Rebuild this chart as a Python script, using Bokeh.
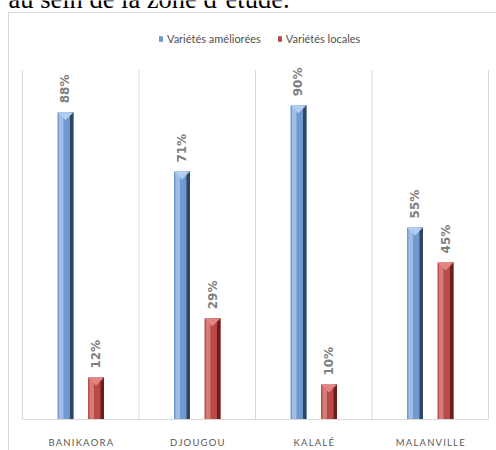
import numpy as np
from bokeh.plotting import figure
from bokeh.models import (Range1d, FixedTicker, Legend, LegendItem, Label,
                          ColumnDataSource)
from bokeh.embed import file_html
from bokeh.resources import INLINE
from bokeh.core.properties import value

# Share of improved vs local varieties per commune (%)
communes = ["BANIKAORA", "DJOUGOU", "KALALÉ", "MALANVILLE"]
ameliorees = [88, 71, 90, 55]
locales = [12, 29, 10, 45]
series_names = ["Variétés améliorées", "Variétés locales"]
caption = "au sein de la zone d’étude."

BLUE = dict(main="#7199d0", light="#9fbde6", dark="#2e4665", cap="#b3cdf0")
RED = dict(main="#b94a47", light="#d57b78", dark="#6a1f1d", cap="#e28583")

W = 0.137      # bar width in category units
OFF = 0.131    # distance of each bar from the category centre
CAP = 2.3      # depth of the bevelled top, in percent units

# the frame fills the canvas above the axis; ranges padded so that the
# category slots sit 22 px from the left and 8 px from the right edge
WIDTH, HEIGHT, AXIS_H = 496, 450, 30
slot_px = (WIDTH - 22 - 8) / len(communes)
x_range = Range1d(-22 / slot_px, len(communes) + 8 / slot_px)
y_range = Range1d(0, (HEIGHT - AXIS_H) / 3.5)

p = figure(width=WIDTH, height=HEIGHT, x_range=x_range, y_range=y_range,
           output_backend="svg", toolbar_location=None, y_axis_location=None,
           min_border_left=0, min_border_right=0, min_border_top=0,
           min_border_bottom=AXIS_H)
p.outline_line_color = None
p.background_fill_color = None
p.border_fill_color = None
p.styles = {
    "background": "linear-gradient(#d9d9d9,#d9d9d9) 8px 12px / 1px 100% no-repeat, "
                  "linear-gradient(#d9d9d9,#d9d9d9) 8px 12px / 100% 1px no-repeat, #ffffff",
}

centres = np.arange(len(communes)) + 0.5
bounds = np.arange(len(communes) + 1)


def spaced(word):
    return "\u2009".join(word)


# slot separators, running up to the 100 % level
p.segment(x0=bounds, y0=0, x1=bounds, y1=100, line_color="#d9d9d9", line_width=1)


def draw_series(xs, vals, col):
    src = ColumnDataSource(dict(x=xs, top=vals))
    base = p.vbar(x="x", top="top", width=W, bottom=0, source=src,
                  fill_color=col["main"], line_color=None)
    p.vbar(x=xs - W * 0.27, top=vals, width=W * 0.28, bottom=0,
           fill_color=col["light"], line_color=None)
    p.vbar(x=xs + W * 0.39, top=vals, width=W * 0.22, bottom=0,
           fill_color=col["dark"], line_color=None)
    cap_x = [[x - W / 2, x + W / 2, x] for x in xs]
    cap_y = [[v, v, v - CAP] for v in vals]
    p.patches(cap_x, cap_y, fill_color=col["cap"], line_color=None)
    p.text(x=xs, y=vals, text=[f"{v}%" for v in vals], angle=np.pi / 2,
           text_align="left", text_baseline="middle", y_offset=-9,
           text_font=value("DejaVu Sans"), text_font_style="bold",
           text_font_size="12px", text_color="#7f7f7f")
    return base


r1 = draw_series(centres - OFF, np.array(ameliorees), BLUE)
r2 = draw_series(centres + OFF, np.array(locales), RED)

# category axis
p.xgrid.visible = False
p.ygrid.visible = False
p.xaxis.bounds = (0, len(communes))
p.xaxis.ticker = FixedTicker(ticks=list(centres))
p.xaxis.major_label_overrides = {float(c): spaced(n) for c, n in zip(centres, communes)}
p.xaxis.axis_line_color = "#d9d9d9"
p.xaxis.major_tick_line_color = None
p.xaxis.minor_tick_line_color = None
p.xaxis.major_label_standoff = 11
p.xaxis.major_label_text_font = "Lato"
p.xaxis.major_label_text_font_size = "9.5px"
p.xaxis.major_label_text_color = "#595959"

legend = Legend(items=[LegendItem(label=series_names[0], renderers=[r1]),
                       LegendItem(label=series_names[1], renderers=[r2])],
                orientation="horizontal", location=(158, 374),
                glyph_width=5, glyph_height=7, label_standoff=4, spacing=16,
                padding=0, margin=0, border_line_color=None,
                background_fill_alpha=0,
                label_text_font="Lato",
                label_text_font_size="11px", label_text_color="#505050")
p.add_layout(legend, "center")

p.add_layout(Label(x=8, y=-2, x_units="canvas", y_units="canvas",
                   text=caption, text_font="Liberation Serif",
                   text_font_size="26.5px", text_baseline="alphabetic",
                   text_color="#000000"))

open("out.html", "w").write(file_html(p, INLINE))
